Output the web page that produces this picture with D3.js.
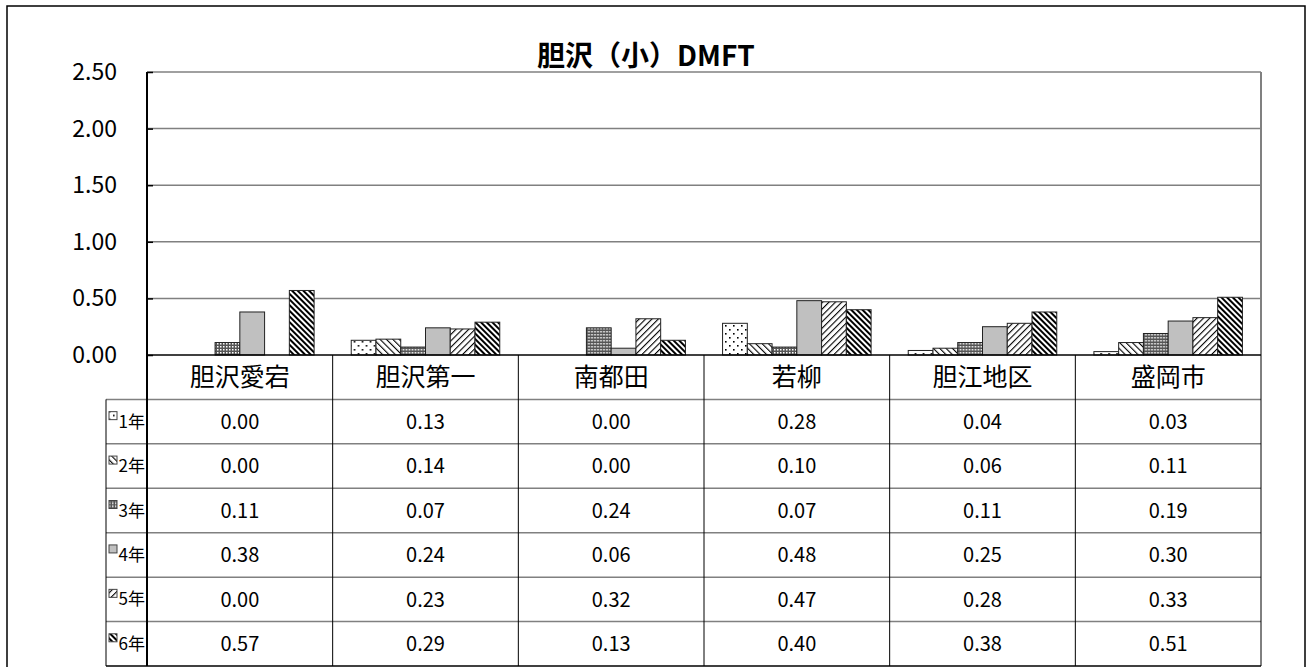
<!DOCTYPE html>
<html>
<head>
<meta charset="utf-8">
<script src="https://cdn.jsdelivr.net/npm/d3@7"></script>
<style>
  body { margin: 0; background: #fff; }
  text { font-family: "Noto Sans CJK JP", "Noto Sans", sans-serif; fill: #000; }
</style>
</head>
<body>
<div id="chart"></div>
<script>
// data
const categories = ["胆沢愛宕", "胆沢第一", "南都田", "若柳", "胆江地区", "盛岡市"];
const years = ["1年", "2年", "3年", "4年", "5年", "6年"];
const y1 = [0.00, 0.13, 0.00, 0.28, 0.04, 0.03];
const y2 = [0.00, 0.14, 0.00, 0.10, 0.06, 0.11];
const y3 = [0.11, 0.07, 0.24, 0.07, 0.11, 0.19];
const y4 = [0.38, 0.24, 0.06, 0.48, 0.25, 0.30];
const y5 = [0.00, 0.23, 0.32, 0.47, 0.28, 0.33];
const y6 = [0.57, 0.29, 0.13, 0.40, 0.38, 0.51];
const yTicks = [0, 0.5, 1.0, 1.5, 2.0, 2.5];
const title = "胆沢（小）DMFT";

const series = [y1, y2, y3, y4, y5, y6];

const width = 1307, height = 667;
const plot = {left: 147, right: 1261, top: 72, bottom: 355};
const tableBottom = 666;
const labelLeft = 106;

const svg = d3.select("#chart")
  .append("svg")
    .attr("width", width)
    .attr("height", height);

// fill patterns, one per year
const defs = svg.append("defs");

const pDots = defs.append("pattern").attr("id", "p0")
    .attr("patternUnits", "userSpaceOnUse").attr("width", 8).attr("height", 8);
pDots.append("rect").attr("width", 8).attr("height", 8).attr("fill", "#fff");
pDots.append("rect").attr("x", 1).attr("y", 1).attr("width", 1.6).attr("height", 1.6).attr("fill", "#000");
pDots.append("rect").attr("x", 5).attr("y", 5).attr("width", 1.6).attr("height", 1.6).attr("fill", "#000");

function stripes(id, size, thick, angle) {
  const p = defs.append("pattern").attr("id", id)
      .attr("patternUnits", "userSpaceOnUse")
      .attr("width", size).attr("height", size)
      .attr("patternTransform", `rotate(${angle})`);
  p.append("rect").attr("width", size).attr("height", size).attr("fill", "#fff");
  p.append("rect").attr("width", thick).attr("height", size).attr("fill", "#000");
}
stripes("p1", 4.5, 1.1, -45);
stripes("p4", 4.5, 1.1, 45);
stripes("p5", 4, 2, -45);

const pCheck = defs.append("pattern").attr("id", "p2")
    .attr("patternUnits", "userSpaceOnUse").attr("width", 3).attr("height", 3);
pCheck.append("rect").attr("width", 3).attr("height", 3).attr("fill", "#555");
pCheck.append("rect").attr("x", 1).attr("y", 1).attr("width", 1.5).attr("height", 1.5).attr("fill", "#fff");

const fills = ["url(#p0)", "url(#p1)", "url(#p2)", "#c0c0c0", "url(#p4)", "url(#p5)"];

// outer frame
svg.append("path")
  .attr("d", `M7,${height} V6 H1305 V${height}`)
  .attr("fill", "none").attr("stroke", "#000").attr("stroke-width", 1.5);

// scales
const x0 = d3.scaleBand().domain(categories).range([plot.left, plot.right]);
const x1 = d3.scaleBand().domain(years).range([0, x0.bandwidth()]).paddingOuter(0.75);
const y = d3.scaleLinear().domain([0, 2.5]).range([plot.bottom, plot.top]);
const rows = d3.scaleBand().domain(["head"].concat(years)).range([plot.bottom, tableBottom]);

// gridlines
svg.append("g")
  .selectAll("line")
  .data(yTicks.filter(d => d > 0))
  .join("line")
    .attr("x1", plot.left).attr("x2", plot.right)
    .attr("y1", d => y(d)).attr("y2", d => y(d))
    .attr("stroke", "#808080").attr("stroke-width", 1.5);

// right border of plot
svg.append("line")
  .attr("x1", plot.right).attr("x2", plot.right)
  .attr("y1", plot.top).attr("y2", plot.bottom)
  .attr("stroke", "#808080").attr("stroke-width", 2);

// y axis
const yAxis = svg.append("g")
  .attr("transform", `translate(${plot.left},0)`)
  .call(d3.axisRight(y).tickValues(yTicks).tickSize(6).tickFormat(""));
yAxis.select(".domain").remove();
yAxis.selectAll("line").attr("stroke", "#000").attr("stroke-width", 1.5);

svg.append("g")
  .selectAll("text")
  .data(yTicks)
  .join("text")
    .attr("x", 117)
    .attr("y", d => y(d))
    .attr("dy", "0.35em")
    .attr("text-anchor", "end")
    .style("font-size", "23px")
    .text(d3.format(".2f"));

// bars
svg.append("g")
  .selectAll("g")
  .data(categories)
  .join("g")
    .attr("transform", d => `translate(${x0(d)},0)`)
  .selectAll("rect")
  .data((c, ci) => years.map((yr, si) => ({yr, si, v: series[si][ci]})))
  .join("rect")
    .attr("x", d => x1(d.yr))
    .attr("y", d => y(d.v))
    .attr("width", x1.bandwidth())
    .attr("height", d => y(0) - y(d.v))
    .attr("fill", d => fills[d.si])
    .attr("stroke", "#222")
    .attr("stroke-width", 1)
    .style("display", d => d.v > 0 ? null : "none");

// table horizontal lines
svg.append("g")
  .selectAll("line")
  .data(years)
  .join("line")
    .attr("x1", labelLeft).attr("x2", plot.right)
    .attr("y1", d => rows(d)).attr("y2", d => rows(d))
    .attr("stroke", "#808080").attr("stroke-width", 1.5);
svg.append("line")
  .attr("x1", labelLeft).attr("x2", plot.right)
  .attr("y1", tableBottom).attr("y2", tableBottom)
  .attr("stroke", "#000").attr("stroke-width", 1.5);

// table vertical lines
svg.append("g")
  .selectAll("line")
  .data(categories.slice(1).concat(["end"]))
  .join("line")
    .attr("x1", d => d === "end" ? plot.right : x0(d))
    .attr("x2", d => d === "end" ? plot.right : x0(d))
    .attr("y1", plot.bottom).attr("y2", tableBottom)
    .attr("stroke", "#000").attr("stroke-width", 1);
svg.append("line")
  .attr("x1", labelLeft).attr("x2", labelLeft)
  .attr("y1", rows(years[0])).attr("y2", tableBottom)
  .attr("stroke", "#000").attr("stroke-width", 1);

// x axis line and left axis line
svg.append("line")
  .attr("x1", plot.left).attr("x2", plot.right)
  .attr("y1", plot.bottom).attr("y2", plot.bottom)
  .attr("stroke", "#000").attr("stroke-width", 1.5);
svg.append("line")
  .attr("x1", plot.left).attr("x2", plot.left)
  .attr("y1", plot.top).attr("y2", tableBottom)
  .attr("stroke", "#000").attr("stroke-width", 2);

// category headers
svg.append("g")
  .selectAll("text")
  .data(categories)
  .join("text")
    .attr("x", d => x0(d) + x0.bandwidth() / 2)
    .attr("y", rows("head") + rows.bandwidth() / 2)
    .attr("dy", "0.36em")
    .attr("text-anchor", "middle")
    .style("font-size", "25px")
    .text(d => d);

// row labels with legend keys
const rowLab = svg.append("g")
  .selectAll("g")
  .data(years)
  .join("g")
    .attr("transform", d => `translate(0,${rows(d) + rows.bandwidth() / 2})`);
rowLab.append("rect")
  .attr("x", 109).attr("y", -10)
  .attr("width", 8).attr("height", 8)
  .attr("fill", (d, i) => fills[i])
  .attr("stroke", "#444").attr("stroke-width", 1);
rowLab.append("text")
  .attr("x", 145)
  .attr("dy", "0.36em")
  .attr("text-anchor", "end")
  .style("font-size", "17px")
  .text(d => d);

// value cells
svg.append("g")
  .selectAll("g")
  .data(years)
  .join("g")
  .selectAll("text")
  .data((yr, si) => categories.map((c, ci) => ({yr, c, v: series[si][ci]})))
  .join("text")
    .attr("x", d => x0(d.c) + x0.bandwidth() / 2)
    .attr("y", d => rows(d.yr) + rows.bandwidth() / 2)
    .attr("dy", "0.36em")
    .attr("text-anchor", "middle")
    .style("font-size", "20px")
    .text(d => d3.format(".2f")(d.v));

// title
svg.append("text")
  .attr("x", 646)
  .attr("y", 66)
  .attr("text-anchor", "middle")
  .style("font-size", "28px")
  .style("font-weight", "bold")
  .text(title);
</script>
</body>
</html>
